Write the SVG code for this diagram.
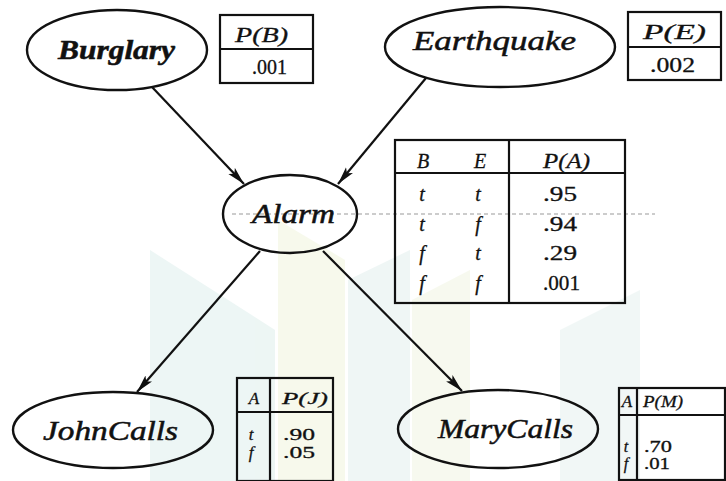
<svg xmlns="http://www.w3.org/2000/svg" width="726" height="481" viewBox="0 0 726 481">
<defs>
<marker id="arr" viewBox="0 0 18 10" refX="18" refY="5" markerWidth="18" markerHeight="10" markerUnits="userSpaceOnUse" orient="auto">
<path d="M0,0.5 L18,5 L0,9.5 L4,5 Z" fill="#111"/>
</marker>
</defs>
<style>
.node{fill:none;stroke:#111;stroke-width:2.4}
.lbl{font-family:"Liberation Serif","Times New Roman",serif;font-style:italic;font-size:27px;fill:#111;stroke:#111;stroke-width:0.5}
.tbl{fill:none;stroke:#111;stroke-width:2.2}
.th{font-family:"Liberation Serif","Times New Roman",serif;font-style:italic;font-size:20px;fill:#111;stroke:#111;stroke-width:0.3}
.tv{font-family:"Liberation Serif","Times New Roman",serif;font-size:20px;fill:#111;stroke:#111;stroke-width:0.3}
.sm{font-size:17px}
.xs{font-size:16px}
.edge{stroke:#111;stroke-width:2.2;fill:none;marker-end:url(#arr)}
</style>
<rect width="726" height="481" fill="#fff"/>
<g id="watermark" opacity="0.45">
<path d="M150,250 L275,330 L275,481 L150,481 Z" fill="#d8ece8"/>
<path d="M278,220 L345,260 L345,481 L278,481 Z" fill="#eef3d6"/>
<path d="M348,280 L410,250 L410,481 L348,481 Z" fill="#dcecea"/>
<path d="M412,300 L470,270 L470,481 L412,481 Z" fill="#eef3dc"/>
<path d="M560,330 L640,290 L640,481 L560,481 Z" fill="#dfeeec"/>
</g>
<line x1="232" y1="214" x2="655" y2="214" stroke="#999" stroke-width="1" stroke-dasharray="4 3"/>
<g id="connectors">
<line class="edge" x1="152" y1="87" x2="244" y2="184"/>
<line class="edge" x1="426" y1="78" x2="338" y2="184"/>
<line class="edge" x1="260" y1="251" x2="137" y2="392"/>
<line class="edge" x1="323" y1="251" x2="462" y2="391"/>
</g>
<g id="burglary">
<ellipse class="node" cx="117" cy="50" rx="90" ry="40"/>
<text class="lbl" x="58" y="59" textLength="117" lengthAdjust="spacingAndGlyphs" font-weight="bold">Burglary</text>
</g>
<g id="cpt-b">
<rect class="tbl" x="220" y="15" width="93" height="68"/>
<line class="tbl" x1="220" y1="49" x2="313" y2="49"/>
<text class="th" x="235" y="42" textLength="53" lengthAdjust="spacingAndGlyphs">P(B)</text>
<text class="tv" x="252" y="74" textLength="35" lengthAdjust="spacingAndGlyphs">.001</text>
</g>
<g id="earthquake">
<ellipse class="node" cx="500" cy="47" rx="115" ry="40"/>
<text class="lbl" x="413" y="50" textLength="163" lengthAdjust="spacingAndGlyphs">Earthquake</text>
</g>
<g id="cpt-e">
<rect class="tbl" x="628" y="12" width="93" height="68"/>
<line class="tbl" x1="628" y1="47" x2="721" y2="47"/>
<text class="th" x="643" y="39" textLength="63" lengthAdjust="spacingAndGlyphs">P(E)</text>
<text class="tv" x="650" y="72" textLength="45" lengthAdjust="spacingAndGlyphs">.002</text>
</g>
<g id="alarm">
<ellipse class="node" cx="290" cy="214" rx="67" ry="39"/>
<text class="lbl" x="252" y="223" textLength="83" lengthAdjust="spacingAndGlyphs">Alarm</text>
</g>
<g id="cpt-a">
<rect class="tbl" x="395" y="140" width="230" height="163"/>
<line class="tbl" x1="395" y1="173" x2="625" y2="173"/>
<line class="tbl" x1="509" y1="140" x2="509" y2="303"/>
<text class="th" x="423" y="168" text-anchor="middle">B</text>
<text class="th" x="480" y="168" text-anchor="middle">E</text>
<text class="th" x="543" y="168" textLength="47" lengthAdjust="spacingAndGlyphs">P(A)</text>
<text class="th" x="422" y="201" text-anchor="middle">t</text>
<text class="th" x="478" y="201" text-anchor="middle">t</text>
<text class="tv" x="543" y="201" textLength="34" lengthAdjust="spacingAndGlyphs">.95</text>
<text class="th" x="422" y="231" text-anchor="middle">t</text>
<text class="th" x="478" y="231" text-anchor="middle">f</text>
<text class="tv" x="543" y="231" textLength="34" lengthAdjust="spacingAndGlyphs">.94</text>
<text class="th" x="422" y="260" text-anchor="middle">f</text>
<text class="th" x="478" y="260" text-anchor="middle">t</text>
<text class="tv" x="543" y="260" textLength="34" lengthAdjust="spacingAndGlyphs">.29</text>
<text class="th" x="422" y="290" text-anchor="middle">f</text>
<text class="th" x="478" y="290" text-anchor="middle">f</text>
<text class="tv" x="543" y="290" textLength="37" lengthAdjust="spacingAndGlyphs">.001</text>
</g>
<g id="johncalls">
<ellipse class="node" cx="113" cy="430" rx="100" ry="38"/>
<text class="lbl" x="43" y="440" textLength="135" lengthAdjust="spacingAndGlyphs">JohnCalls</text>
</g>
<g id="cpt-j">
<rect class="tbl" x="237" y="378" width="96" height="103"/>
<line class="tbl" x1="237" y1="412" x2="333" y2="412"/>
<line class="tbl" x1="270" y1="378" x2="270" y2="481"/>
<text class="th sm" x="254" y="404" text-anchor="middle">A</text>
<text class="th sm" x="282" y="404" textLength="46" lengthAdjust="spacingAndGlyphs">P(J)</text>
<text class="th sm" x="251" y="440" text-anchor="middle">t</text>
<text class="tv sm" x="283" y="440" textLength="32" lengthAdjust="spacingAndGlyphs">.90</text>
<text class="th sm" x="251" y="458" text-anchor="middle">f</text>
<text class="tv sm" x="283" y="458" textLength="32" lengthAdjust="spacingAndGlyphs">.05</text>
</g>
<g id="marycalls">
<ellipse class="node" cx="498" cy="429" rx="100" ry="39"/>
<text class="lbl" x="438" y="438" textLength="135" lengthAdjust="spacingAndGlyphs">MaryCalls</text>
</g>
<g id="cpt-m">
<rect class="tbl" x="619" y="388" width="106" height="92"/>
<line class="tbl" x1="619" y1="415" x2="725" y2="415"/>
<line class="tbl" x1="637" y1="388" x2="637" y2="480"/>
<text class="th sm" x="627" y="407" text-anchor="middle">A</text>
<text class="th sm" x="643" y="407" textLength="40" lengthAdjust="spacingAndGlyphs">P(M)</text>
<text class="th xs" x="626" y="452" text-anchor="middle">t</text>
<text class="tv xs" x="644" y="452" textLength="28" lengthAdjust="spacingAndGlyphs">.70</text>
<text class="th xs" x="626" y="469" text-anchor="middle">f</text>
<text class="tv xs" x="644" y="469" textLength="26" lengthAdjust="spacingAndGlyphs">.01</text>
</g>
</svg>
